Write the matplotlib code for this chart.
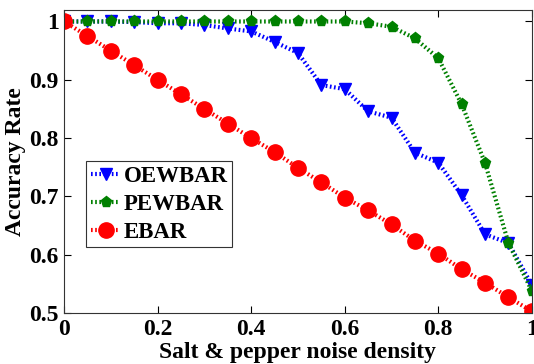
import matplotlib
matplotlib.use('Agg')
import matplotlib.pyplot as plt

# Noise density levels
density = [0.0, 0.05, 0.1, 0.15, 0.2, 0.25, 0.3, 0.35, 0.4, 0.45, 0.5,
           0.55, 0.6, 0.65, 0.7, 0.75, 0.8, 0.85, 0.9, 0.95, 1.0]

# Accuracy rates
oewbar = [1.0, 1.0, 1.0, 0.999, 0.997, 0.997, 0.994, 0.988, 0.983, 0.965,
          0.946, 0.891, 0.884, 0.846, 0.835, 0.775, 0.758, 0.702, 0.635,
          0.620, 0.548]
pewbar = [1.0, 1.0, 1.0, 1.0, 1.0, 1.0, 1.0, 1.0, 1.0, 1.0, 1.0, 1.0, 1.0,
          0.997, 0.991, 0.971, 0.937, 0.858, 0.757, 0.620, 0.538]
ebar = [1.0, 0.975, 0.95, 0.925, 0.9, 0.875, 0.85, 0.825, 0.8, 0.776,
        0.749, 0.724, 0.698, 0.676, 0.652, 0.624, 0.602, 0.575, 0.552,
        0.527, 0.503]

xticks = [0, 0.2, 0.4, 0.6, 0.8, 1.0]
xticklabels = ['0', '0.2', '0.4', '0.6', '0.8', '1']
yticks = [0.5, 0.6, 0.7, 0.8, 0.9, 1.0]
yticklabels = ['0.5', '0.6', '0.7', '0.8', '0.9', '1']

plt.rcParams['font.family'] = ['Liberation Serif', 'DejaVu Serif']
plt.rcParams['font.weight'] = 'bold'

fig = plt.figure(figsize=(5.34, 3.64), dpi=100)
ax = fig.add_axes([0.12, 0.14, 0.876, 0.833])

dots = (0, (0.4, 0.6))
ax.plot(density, oewbar, color='blue', linestyle=dots, linewidth=3,
        marker='v', markersize=9, label='OEWBAR')
ax.plot(density, pewbar, color='green', linestyle=dots, linewidth=3,
        marker='p', markersize=8, label='PEWBAR')
ax.plot(density, ebar, color='red', linestyle=dots, linewidth=3,
        marker='o', markersize=11, label='EBAR')

ax.set_xlim(0, 1)
ax.set_ylim(0.5, 1.02)
ax.set_xticks(xticks)
ax.set_xticklabels(xticklabels)
ax.set_yticks(yticks)
ax.set_yticklabels(yticklabels)
ax.tick_params(direction='in', top=True, right=True, labelsize=17,
               length=5, width=0.8, pad=4)
for s in ax.spines.values():
    s.set_color('#333333')

ax.set_xlabel('Salt & pepper noise density', fontsize=17, fontweight='bold',
              labelpad=2)
ax.set_ylabel('Accuracy Rate', fontsize=17, fontweight='bold', labelpad=2)

leg = ax.legend(loc='upper left', bbox_to_anchor=(0.047, 0.5),
                fancybox=False, edgecolor='#333333', framealpha=1,
                handlelength=1.3, handletextpad=0.15, borderpad=0.2,
                labelspacing=0.3, borderaxespad=0,
                prop={'weight': 'bold', 'size': 16.5})
leg.get_frame().set_linewidth(0.8)

fig.savefig('out.png', dpi=100)
